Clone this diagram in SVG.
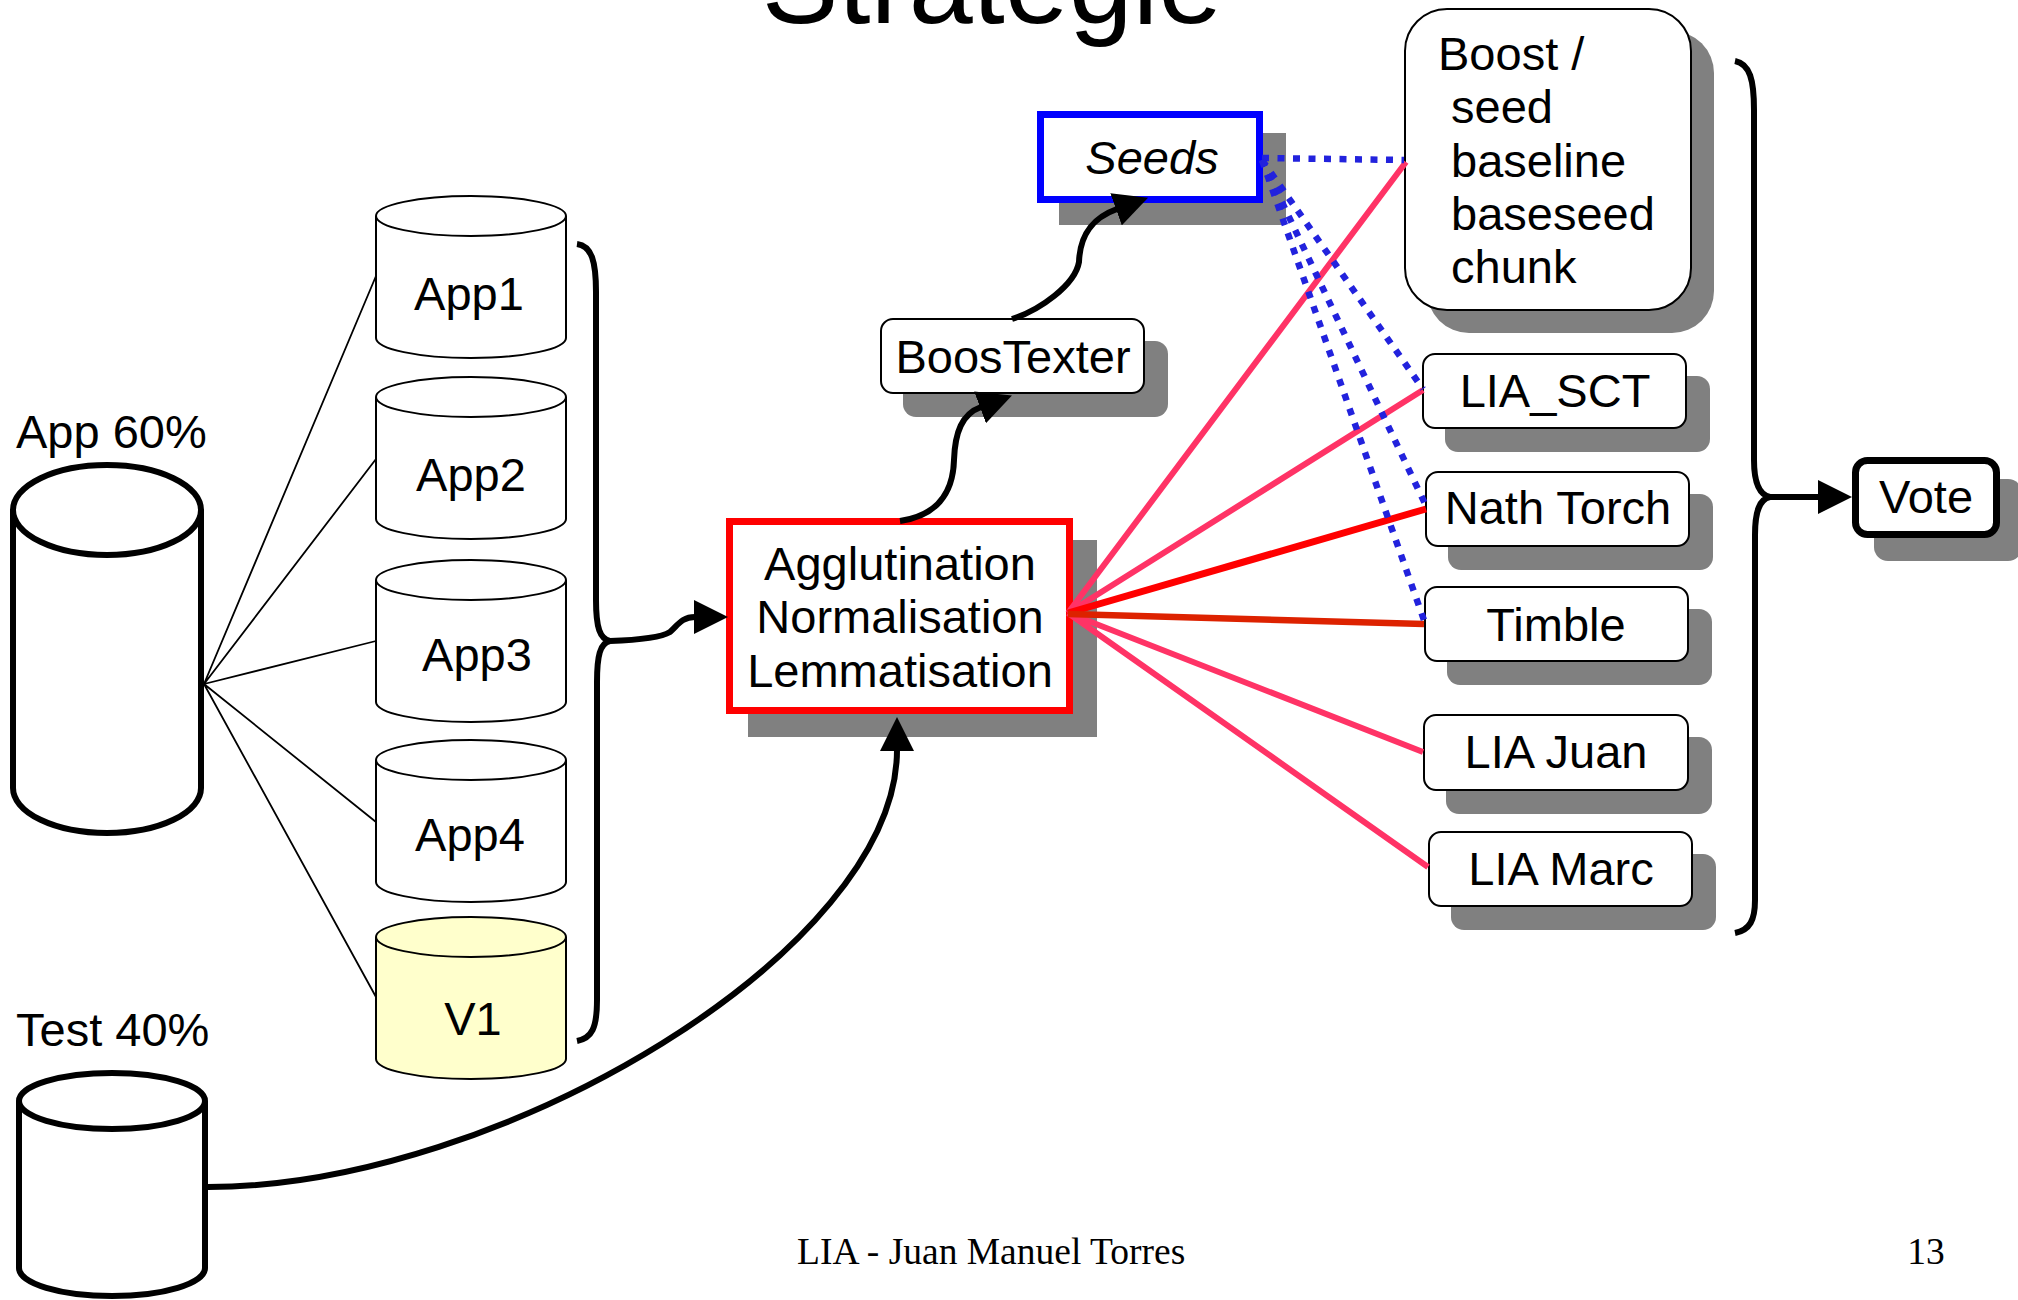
<svg xmlns="http://www.w3.org/2000/svg" width="2018" height="1300" viewBox="0 0 2018 1300">
<defs>
<style>
.lbl{font-family:"Liberation Sans",Arial,sans-serif;font-size:47px;fill:#000}
.mid{text-anchor:middle}
.shadow{fill:#808080}
.box{fill:#fff;stroke:#000;stroke-width:2}
.cyl{fill:#fff;stroke:#000;stroke-width:2}
.cylb{fill:#fff;stroke:#000;stroke-width:6}
.thin{fill:none;stroke:#000;stroke-width:1.8}
.conn{fill:none;stroke:#000;stroke-width:6}
.pink{fill:none;stroke:#FF3366;stroke-width:6}
.dots{fill:none;stroke:#2222DD;stroke-width:6.5;stroke-dasharray:7 8.5}
.foot{font-family:"Liberation Serif","Times New Roman",serif;font-size:37.5px;fill:#000}
</style>
<marker id="ah" viewBox="0 0 34 34" markerUnits="userSpaceOnUse" markerWidth="34" markerHeight="34" refX="1" refY="17" orient="auto">
<path d="M0,0 L34,17 L0,34 Z" fill="#000"/>
</marker>
</defs>
<rect width="2018" height="1300" fill="#fff"/>

<text class="lbl mid" x="992" y="23" style="font-size:115px">Strategie</text>

<g id="app60">
<path class="cylb" d="M13 510 V788 A94 45 0 0 0 201 788 V510"/>
<ellipse class="cylb" cx="107" cy="510" rx="94" ry="45"/>
<text class="lbl" x="16" y="448">App 60%</text>
</g>

<g id="test40">
<path class="cylb" d="M19 1101 V1268 A93 28 0 0 0 205 1268 V1101"/>
<ellipse class="cylb" cx="112" cy="1101" rx="93" ry="28"/>
<text class="lbl" x="16" y="1046">Test 40%</text>
</g>

<g id="app1">
<path class="cyl" d="M376 216 V338 A95 20 0 0 0 566 338 V216"/>
<ellipse class="cyl" cx="471" cy="216" rx="95" ry="20"/>
<text class="lbl mid" x="469" y="310">App1</text>
</g>
<g id="app2">
<path class="cyl" d="M376 397 V519 A95 20 0 0 0 566 519 V397"/>
<ellipse class="cyl" cx="471" cy="397" rx="95" ry="20"/>
<text class="lbl mid" x="471" y="491">App2</text>
</g>
<g id="app3">
<path class="cyl" d="M376 580 V702 A95 20 0 0 0 566 702 V580"/>
<ellipse class="cyl" cx="471" cy="580" rx="95" ry="20"/>
<text class="lbl mid" x="477" y="671">App3</text>
</g>
<g id="app4">
<path class="cyl" d="M376 760 V882 A95 20 0 0 0 566 882 V760"/>
<ellipse class="cyl" cx="471" cy="760" rx="95" ry="20"/>
<text class="lbl mid" x="470" y="851">App4</text>
</g>
<g id="v1">
<path class="cyl" style="fill:#FFFFCC" d="M376 937 V1059 A95 20 0 0 0 566 1059 V937"/>
<ellipse class="cyl" style="fill:#FFFFCC" cx="471" cy="937" rx="95" ry="20"/>
<text class="lbl mid" x="473" y="1035">V1</text>
</g>

<g id="agglutination">
<rect class="shadow" x="748" y="540" width="349" height="197"/>
<rect x="729.5" y="521.5" width="340" height="189" fill="#fff" stroke="#FF0000" stroke-width="7"/>
<text class="lbl mid" x="900" y="580">Agglutination</text>
<text class="lbl mid" x="900" y="633">Normalisation</text>
<text class="lbl mid" x="900" y="687">Lemmatisation</text>
</g>

<g id="boostexter">
<rect class="shadow" x="903" y="341" width="265" height="76" rx="13"/>
<rect class="box" x="881" y="319" width="263" height="74" rx="12"/>
<text class="lbl mid" x="1013" y="373">BoosTexter</text>
</g>

<g id="seeds">
<rect class="shadow" x="1059" y="133" width="227" height="92"/>
<rect x="1040.5" y="114.5" width="219" height="85" fill="#fff" stroke="#0000FF" stroke-width="7"/>
<text class="lbl mid" x="1152" y="174" font-style="italic">Seeds</text>
</g>

<g id="boost">
<rect class="shadow" x="1427" y="31" width="287" height="302" rx="42"/>
<rect class="box" x="1405" y="9" width="286" height="301" rx="42"/>
<text class="lbl" x="1438" y="70">Boost /</text>
<text class="lbl" x="1451" y="123">seed</text>
<text class="lbl" x="1451" y="177">baseline</text>
<text class="lbl" x="1451" y="230">baseseed</text>
<text class="lbl" x="1451" y="283">chunk</text>
</g>

<g id="lia_sct">
<rect class="shadow" x="1445" y="376" width="265" height="76" rx="13"/>
<rect class="box" x="1423" y="354" width="263" height="74" rx="12"/>
<text class="lbl mid" x="1555" y="407">LIA_SCT</text>
</g>
<g id="nath_torch">
<rect class="shadow" x="1448" y="494" width="265" height="76" rx="13"/>
<rect class="box" x="1426" y="472" width="263" height="74" rx="12"/>
<text class="lbl mid" x="1558" y="524">Nath Torch</text>
</g>
<g id="timble">
<rect class="shadow" x="1447" y="609" width="265" height="76" rx="13"/>
<rect class="box" x="1425" y="587" width="263" height="74" rx="12"/>
<text class="lbl mid" x="1556" y="641">Timble</text>
</g>
<g id="lia_juan">
<rect class="shadow" x="1446" y="737" width="266" height="77" rx="13"/>
<rect class="box" x="1424" y="715" width="264" height="75" rx="12"/>
<text class="lbl mid" x="1556" y="768">LIA Juan</text>
</g>
<g id="lia_marc">
<rect class="shadow" x="1451" y="854" width="265" height="76" rx="13"/>
<rect class="box" x="1429" y="832" width="263" height="74" rx="12"/>
<text class="lbl mid" x="1561" y="885">LIA Marc</text>
</g>

<g id="vote">
<rect class="shadow" x="1874" y="479" width="148" height="82" rx="14"/>
<rect x="1855.5" y="460.5" width="141" height="74" rx="12" fill="#fff" stroke="#000" stroke-width="7"/>
<text class="lbl mid" x="1926" y="513">Vote</text>
</g>

<g id="connectors">
<path class="thin" d="M204 684 L376 276 M204 684 L376 459 M204 684 L376 641 M204 684 L376 822 M204 684 L376 997"/>
<path class="conn" d="M577 244 C592 246 596 262 596 292 L596 600 C596 628 600 639 610 641 C600 643 597 656 597 682 L597 1000 C597 1028 592 1038 577 1041"/>
<path class="conn" marker-end="url(#ah)" d="M610 641 C640 640 662 637 670 632 C678 625 682 617 695 617"/>
<path class="conn" marker-end="url(#ah)" d="M900 521 C935 516 953 495 954 460 C955 432 962 414 981 407"/>
<path class="conn" marker-end="url(#ah)" d="M1012 319 C1040 310 1075 285 1079 262 C1080 235 1092 218 1117 209"/>
<path class="conn" marker-end="url(#ah)" d="M208 1187 C500 1187 897 950 897 750"/>
<path class="pink" d="M1068 613 L1406 162 M1068 613 L1423 390 M1068 613 L1423 752 M1068 613 L1428 867"/>
<path fill="none" stroke="#FF0000" stroke-width="7" d="M1068 613 L1426 509"/>
<path fill="none" stroke="#DD2200" stroke-width="6.5" d="M1068 614 L1424 624"/>
<path class="dots" d="M1262 158 L1404 160"/>
<path class="dots" d="M1262 160 L1423 389"/>
<path class="dots" d="M1262 160 L1427 508"/>
<path class="dots" d="M1262 160 L1425 623"/>
<path class="conn" d="M1735 61 C1750 64 1754 80 1754 110 L1754 460 C1754 485 1760 495 1770 497 C1760 499 1755 510 1755 535 L1755 900 C1755 920 1750 930 1735 933"/>
<path class="conn" marker-end="url(#ah)" d="M1770 497 L1819 497"/>
</g>

<text class="foot" x="797" y="1264">LIA - Juan Manuel Torres</text>
<text class="foot mid" x="1926" y="1264">13</text>
</svg>
